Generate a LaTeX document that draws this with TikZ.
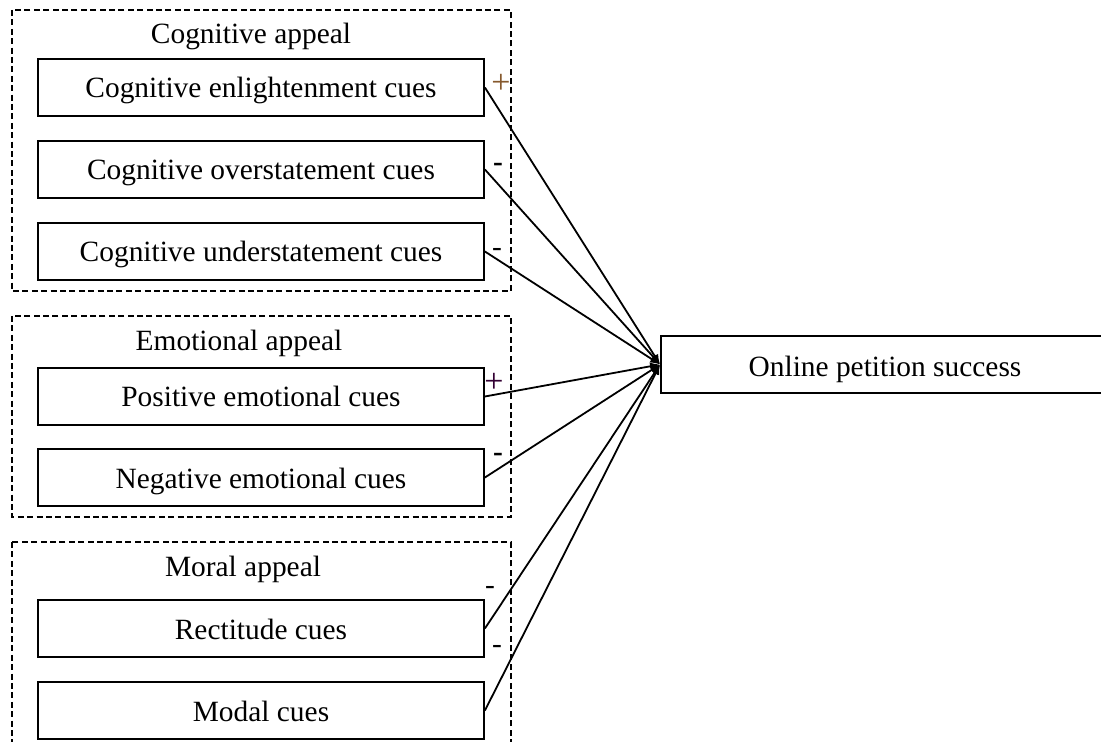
\documentclass[tikz,border=0pt]{standalone}
\usepackage{fontspec}
\setmainfont{Liberation Serif}
\usetikzlibrary{arrows.meta}

\begin{document}
\begin{tikzpicture}[x=0.5pt,y=-0.5pt,
        font=\fontsize{14.7}{17}\selectfont,
        cue/.style={draw,line width=0.9pt,minimum width=223pt,minimum height=28.5pt,
                    inner sep=0pt,text height=12pt,text depth=1.5pt},
        outcome/.style={cue,minimum width=224pt,text height=13.5pt},
        group/.style={draw,line width=0.9pt,dash pattern=on 3pt off 1.7pt},
        sign/.style={inner sep=0pt},
        plus/.style={sign,font=\fontsize{17}{19}\selectfont}]
            \useasboundingbox (0,0) rectangle (1101,742);
            % appeal groups
            \draw[group] (12,10) rectangle (511,291);
            \draw[group] (12,316) rectangle (511,517);
            \draw[group] (12,542) rectangle (511,770);
            \draw (251,36) node (cogtitle) {Cognitive appeal};
            \draw (239,343) node (emotitle) {Emotional appeal};
            \draw (243,569) node (mortitle) {Moral appeal};
            % cues
            \draw (261,87.5) node[cue] (enl) {Cognitive enlightenment cues};
            \draw (261,169.5) node[cue] (over) {Cognitive overstatement cues};
            \draw (261,251.5) node[cue] (under) {Cognitive understatement cues};
            \draw (261,396.5) node[cue] (pos) {Positive emotional cues};
            \draw (261,477.5) node[cue] (neg) {Negative emotional cues};
            \draw (261,628.5) node[cue] (rect) {Rectitude cues};
            \draw (261,710.5) node[cue] (modal) {Modal cues};
            \draw (885,364.5) node[outcome] (success) {Online petition success};
            % signs
            \draw (501,84) node[plus,text=brown!70!black] (enlsign) {+};
            \draw (498,167) node[sign] (oversign) {\textbf{-}};
            \draw (497,252) node[sign] (undersign) {-};
            \draw (494,383) node[plus,text=violet!40!black] (possign) {+};
            \draw (498,457) node[sign] (negsign) {\textbf{-}};
            \draw (490,590) node[sign] (rectsign) {-};
            \draw (497,649) node[sign] (modalsign) {-};
            \path[-{Latex[length=5pt,width=4pt]},line width=0.9pt]
                      (enl.east) edge (success.west)
                      (over.east) edge (success.west)
                      (under.east) edge (success.west)
                      (pos.east) edge (success.west)
                      (neg.east) edge (success.west)
                      (rect.east) edge (success.west)
                      (modal.east) edge (success.west);
        \end{tikzpicture}
\end{document}
